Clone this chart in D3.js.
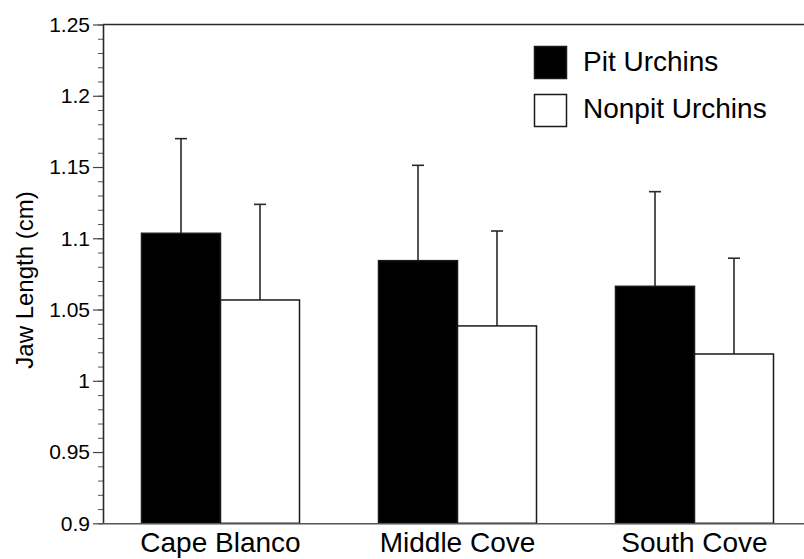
<!DOCTYPE html>
<html>
<head>
<meta charset="utf-8">
<script src="https://cdn.jsdelivr.net/npm/d3@7"></script>
<style>
  html, body { margin: 0; padding: 0; background: #fff; }
  svg { display: block; font-family: "Liberation Sans", Arial, Helvetica, sans-serif; }
</style>
</head>
<body>
<svg id="chart" width="804" height="559"></svg>
<script>
// Sites sampled
const categories = ["Cape Blanco", "Middle Cove", "South Cove"];
// Series names
const seriesNames = ["Pit Urchins", "Nonpit Urchins"];
// Mean jaw length (cm) per site
const pitMeans = [1.1035, 1.0843, 1.0663];
const nonpitMeans = [1.0567, 1.0385, 1.0188];
// Standard error (upper whisker length)
const pitSE = [0.0664, 0.0669, 0.0664];
const nonpitSE = [0.0671, 0.0666, 0.0672];
// Y axis ticks
const majorTicks = [0.9, 0.95, 1, 1.05, 1.1, 1.15, 1.2, 1.25];
const minorTicks = d3.range(90, 126).map(v => v / 100);
const yLabel = "Jaw Length (cm)";

const svg = d3.select("#chart");
const plotLeft = 103, plotRight = 814, plotTop = 24.5, plotBottom = 523.3;

const x = d3.scaleBand().domain(categories).range([plotLeft - 1, plotRight - 1])
  .paddingInner(1 / 3).paddingOuter(1 / 6);
const xs = d3.scaleBand().domain(seriesNames).range([0, x.bandwidth()]);
const y = d3.scaleLinear().domain([0.9, 1.25]).range([plotBottom, plotTop]);

const rows = [];
categories.forEach((c, i) => {
  rows.push({ cat: c, series: seriesNames[0], mean: pitMeans[i], se: pitSE[i] });
  rows.push({ cat: c, series: seriesNames[1], mean: nonpitMeans[i], se: nonpitSE[i] });
});
const fill = d3.scaleOrdinal().domain(seriesNames).range(["#000", "#fff"]);

// Error bars (upper only)
const eb = svg.append("g").attr("stroke", "#2a2a2a").attr("stroke-width", 1.6);
rows.forEach(d => {
  const cx = x(d.cat) + xs(d.series) + xs.bandwidth() / 2;
  eb.append("line").attr("x1", cx).attr("x2", cx)
    .attr("y1", y(d.mean)).attr("y2", y(d.mean + d.se));
  eb.append("line").attr("x1", cx - 6).attr("x2", cx + 6)
    .attr("y1", y(d.mean + d.se)).attr("y2", y(d.mean + d.se));
});

// Bars
svg.append("g").selectAll("rect").data(rows).join("rect")
  .attr("x", d => x(d.cat) + xs(d.series))
  .attr("y", d => y(d.mean))
  .attr("width", xs.bandwidth())
  .attr("height", d => y(0.9) - y(d.mean))
  .attr("fill", d => fill(d.series))
  .attr("stroke", "#1a1a1a")
  .attr("stroke-width", 1.5);

// Y axis: minor ticks
const yMinor = svg.append("g").attr("transform", `translate(${plotLeft},0)`)
  .call(d3.axisLeft(y).tickValues(minorTicks).tickSize(5).tickFormat(""));
yMinor.select(".domain").remove();
yMinor.selectAll("line").attr("stroke", "#555").attr("stroke-width", 1);

// Y axis: major ticks and labels
const yAxis = svg.append("g").attr("transform", `translate(${plotLeft},0)`)
  .call(d3.axisLeft(y).tickValues(majorTicks).tickSize(10).tickPadding(3)
    .tickSizeOuter(0).tickFormat(d3.format("")));
yAxis.select(".domain").attr("stroke", "#2a2a2a").attr("stroke-width", 1.6);
yAxis.selectAll(".tick line").attr("stroke", "#444").attr("stroke-width", 1.2);
yAxis.selectAll("text").attr("font-size", 21).attr("fill", "#000")
  .attr("font-family", "'Liberation Sans', Arial, sans-serif");

// Top frame line
svg.append("line").attr("x1", plotLeft).attr("x2", 804).attr("y1", plotTop).attr("y2", plotTop)
  .attr("stroke", "#2a2a2a").attr("stroke-width", 1.6);

// X axis
const xAxis = svg.append("g").attr("transform", `translate(0,${plotBottom})`)
  .call(d3.axisBottom(x).tickSize(0).tickSizeOuter(0).tickPadding(10));
xAxis.select(".domain").attr("stroke", "#555").attr("stroke-width", 1.6);
xAxis.selectAll("text").attr("font-size", 28).attr("fill", "#000")
  .attr("font-family", "'Liberation Sans', Arial, sans-serif")
  .attr("dy", null).attr("y", 29);

// Y axis title
svg.append("text")
  .attr("transform", `translate(33,280) rotate(-90)`)
  .attr("text-anchor", "middle")
  .attr("font-size", 24)
  .text(yLabel);

// Legend
const lg = svg.append("g");
seriesNames.forEach((s, i) => {
  lg.append("rect").attr("x", 534.5).attr("y", 46.5 + i * 48)
    .attr("width", 32).attr("height", 32)
    .attr("fill", fill(s)).attr("stroke", "#1a1a1a").attr("stroke-width", 1.5);
  lg.append("text").attr("x", 583).attr("y", 70.5 + i * 47.5)
    .attr("font-size", 28).text(s);
});
</script>
</body>
</html>
